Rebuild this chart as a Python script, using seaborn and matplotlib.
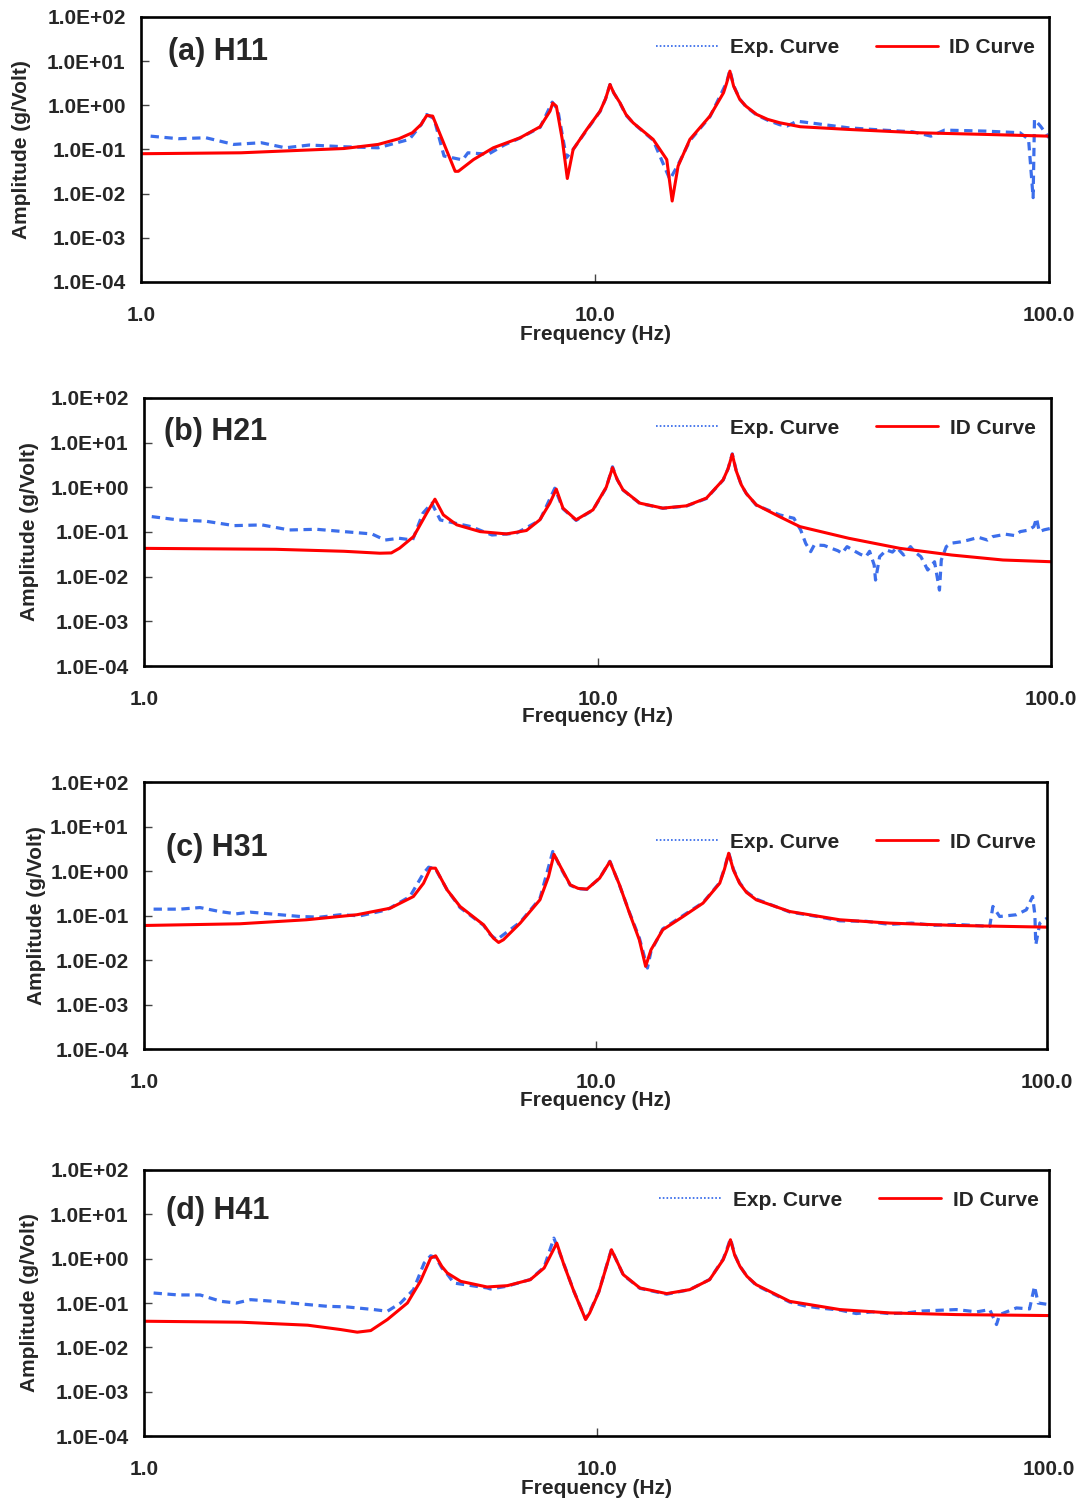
import matplotlib
matplotlib.use("Agg")
import matplotlib.pyplot as plt
import seaborn as sns
from matplotlib.lines import Line2D
from matplotlib.ticker import FixedLocator, FuncFormatter, NullLocator

# Estilo general
sns.set_style("white")
plt.rcParams['font.family'] = ['Liberation Sans', 'DejaVu Sans']
plt.rcParams['font.weight'] = 'bold'
plt.rcParams['lines.scale_dashes'] = False

AZUL = '#3C6EEB'
ROJO = '#FF0000'

# ---- Datos (frecuencia en Hz, amplitud en g/Volt) ----
# (a) H11
frec_h11_id = [1.00, 1.66, 2.80, 3.33, 3.70, 3.96, 4.14, 4.26, 4.39, 4.92,
               5.00, 5.40, 5.97, 6.84, 7.57, 7.96, 8.07, 8.22, 8.47, 8.69,
               8.95, 9.59, 10.26, 10.55, 10.79, 11.0, 11.35, 11.7, 12.13, 13.43,
               14.39, 14.79, 15.24, 16.18, 17.91, 19.19, 19.5, 19.82, 20.2, 20.84,
               21.5, 22.70, 24.0, 25.53, 28.31, 36.14, 51.17, 72.44, 100.0]
amp_h11_id = [0.080, 0.084, 0.105, 0.130, 0.175, 0.239, 0.368, 0.589, 0.569, 0.032,
              0.032, 0.059, 0.109, 0.184, 0.327, 0.736, 1.12, 0.955, 0.169, 0.022,
              0.100, 0.284, 0.736, 1.4, 2.96, 1.9, 1.14, 0.62, 0.402, 0.169,
              0.059, 0.0068, 0.042, 0.169, 0.569, 1.92, 3.2, 5.93, 2.7, 1.36,
              0.955, 0.621, 0.48, 0.402, 0.327, 0.284, 0.239, 0.219, 0.200]
frec_h11_exp = [1.05, 1.21, 1.39, 1.60, 1.84, 2.08, 2.35, 2.80, 3.33, 3.90,
                4.14, 4.26, 4.42, 4.65, 5.11, 5.25, 5.82, 6.31, 6.84, 7.57,
                8.05, 8.28, 8.65, 8.95, 9.59, 10.26, 10.55, 10.79, 11.0, 11.35,
                11.7, 12.13, 13.43, 14.62, 15.24, 16.18, 17.91, 19.5, 19.82, 20.2,
                20.84, 21.5, 22.70, 24.0, 25.53, 26.49, 27.86, 30.41, 36.14, 43.05,
                50.1, 54.95, 58.88, 72.44, 86.30, 90.16, 92.26, 92.90, 95.72, 100.0]
amp_h11_exp = [0.200, 0.175, 0.184, 0.130, 0.142, 0.109, 0.126, 0.115, 0.109, 0.169,
               0.363, 0.619, 0.50, 0.071, 0.058, 0.084, 0.078, 0.126, 0.182, 0.316,
               1.18, 0.794, 0.065, 0.100, 0.275, 0.724, 1.4, 2.95, 1.9, 1.12,
               0.6, 0.398, 0.162, 0.021, 0.045, 0.158, 0.550, 3.3, 6.24, 2.8,
               1.38, 0.93, 0.603, 0.46, 0.363, 0.339, 0.436, 0.389, 0.309, 0.274,
               0.251, 0.200, 0.274, 0.260, 0.239, 0.169, 0.0081, 0.479, 0.339, 0.184]

# (b) H21
frec_h21_id = [1.00, 1.95, 2.76, 3.31, 3.51, 3.66, 3.93, 4.20, 4.38, 4.57,
               4.89, 5.51, 6.30, 6.97, 7.46, 7.85, 8.11, 8.39, 8.97, 9.77,
               10.45, 10.79, 11.05, 11.38, 12.39, 13.93, 15.70, 17.38, 18.92, 19.4,
               19.82, 20.2, 20.75, 21.3, 22.39, 25.18, 27.93, 35.81, 46.45, 60.39,
               78.34, 100.0]
amp_h21_id = [0.043, 0.041, 0.037, 0.0335, 0.034, 0.0434, 0.0789, 0.264, 0.543, 0.242,
              0.145, 0.102, 0.0906, 0.108, 0.187, 0.443, 0.912, 0.342, 0.187, 0.313,
              1.00, 2.75, 1.5, 0.879, 0.443, 0.342, 0.385, 0.573, 1.47, 2.6,
              5.50, 2.4, 1.14, 0.72, 0.406, 0.221, 0.132, 0.0723, 0.043, 0.0305,
              0.0236, 0.0216]
frec_h21_exp = [1.04, 1.19, 1.37, 1.58, 1.82, 2.09, 2.40, 2.76, 3.18, 3.40,
                3.65, 3.91, 4.12, 4.31, 4.50, 5.26, 5.85, 6.61, 7.46, 8.05,
                8.39, 8.97, 9.77, 10.45, 10.79, 11.05, 11.38, 12.39, 13.93, 15.70,
                17.38, 18.92, 19.4, 19.82, 20.2, 20.75, 21.3, 22.39, 25.23, 27.10,
                28.05, 28.77, 29.51, 30.06, 31.6, 32.81, 33.9, 34.59, 35.5, 37.07,
                38.0, 39.08, 39.8, 40.74, 41.02, 41.88, 43.35, 44.7, 45.7, 47.32,
                48.98, 50.1, 51.64, 53.46, 55.34, 56.75, 57.28, 58.75, 60.3, 63.1,
                65.77, 69.2, 72.4, 74.30, 79.4, 83.2, 85.51, 89.1, 91.62, 92.90,
                94.19, 96.6, 100.0]
amp_h21_exp = [0.221, 0.186, 0.174, 0.139, 0.144, 0.111, 0.115, 0.102, 0.0904, 0.066,
               0.0724, 0.066, 0.263, 0.441, 0.186, 0.132, 0.0857, 0.0933, 0.182, 0.955,
               0.331, 0.182, 0.309, 0.98, 2.88, 1.5, 0.871, 0.437, 0.339, 0.380,
               0.562, 1.45, 2.6, 5.62, 2.5, 1.12, 0.72, 0.398, 0.241, 0.203,
               0.111, 0.0557, 0.0363, 0.0513, 0.050, 0.043, 0.038, 0.0333, 0.047, 0.0363,
               0.0316, 0.028, 0.037, 0.0182, 0.0084, 0.028, 0.0395, 0.0355, 0.0447, 0.0305,
               0.047, 0.0355, 0.028, 0.0141, 0.0216, 0.005, 0.0236, 0.047, 0.0562, 0.060,
               0.066, 0.0759, 0.066, 0.0787, 0.0891, 0.0832, 0.102, 0.110, 0.132, 0.203,
               0.102, 0.112, 0.121]

# (c) H31
frec_h31_id = [1.00, 1.63, 2.29, 2.96, 3.51, 3.95, 4.16, 4.31, 4.42, 4.69,
               5.01, 5.65, 5.94, 6.10, 6.25, 6.81, 7.53, 7.87, 8.09, 8.36,
               8.79, 9.15, 9.57, 10.21, 10.76, 11.30, 11.89, 12.50, 12.91, 13.27,
               14.09, 15.63, 17.30, 18.84, 19.3, 19.72, 20.2, 20.84, 21.6, 22.70,
               26.92, 34.75, 44.77, 62.95, 100.0]
amp_h31_id = [0.0597, 0.0652, 0.0802, 0.104, 0.146, 0.267, 0.532, 1.16, 1.16, 0.378,
              0.160, 0.0618, 0.031, 0.0248, 0.0285, 0.0675, 0.225, 0.752, 2.38, 1.26,
              0.489, 0.407, 0.391, 0.690, 1.63, 0.489, 0.113, 0.0285, 0.0072, 0.017,
              0.0478, 0.095, 0.190, 0.532, 1.1, 2.51, 1.05, 0.532, 0.33, 0.225,
              0.123, 0.0802, 0.0675, 0.0597, 0.0548]
frec_h31_exp = [1.05, 1.20, 1.33, 1.47, 1.60, 1.72, 1.94, 2.22, 2.45, 2.72,
                3.01, 3.45, 3.88, 4.16, 4.27, 4.42, 4.69, 5.01, 5.65, 5.85,
                6.04, 6.25, 6.81, 7.53, 8.04, 8.36, 8.79, 9.15, 9.57, 10.21,
                10.76, 11.30, 11.89, 12.50, 13.03, 13.27, 14.09, 15.63, 17.30, 18.84,
                19.3, 19.72, 20.2, 20.84, 21.6, 22.70, 26.92, 30.9, 34.75, 39.8,
                44.77, 50.1, 56.2, 62.95, 70.8, 74.64, 75.86, 78.52, 85.51, 89.95,
                92.90, 93.97, 94.41, 96.38, 100.0]
amp_h31_exp = [0.139, 0.139, 0.151, 0.123, 0.109, 0.119, 0.107, 0.095, 0.0918, 0.104,
               0.0984, 0.134, 0.267, 0.891, 1.22, 1.12, 0.380, 0.151, 0.0603, 0.0369,
               0.0285, 0.0369, 0.0708, 0.240, 2.74, 1.20, 0.479, 0.40, 0.389, 0.692,
               1.66, 0.479, 0.117, 0.0316, 0.0066, 0.0158, 0.0501, 0.100, 0.195, 0.550,
               1.15, 2.57, 1.1, 0.550, 0.34, 0.234, 0.120, 0.0955, 0.0759, 0.0741,
               0.0631, 0.0676, 0.0603, 0.0631, 0.0589, 0.0568, 0.160, 0.095, 0.104, 0.134,
               0.267, 0.104, 0.022, 0.0675, 0.0873]

# (d) H41
frec_h41_id = [1.00, 1.64, 2.30, 2.72, 2.96, 3.17, 3.45, 3.82, 4.08, 4.30,
               4.41, 4.55, 4.68, 5.01, 5.73, 6.35, 7.14, 7.66, 8.17, 8.47,
               8.91, 9.46, 9.66, 10.12, 10.79, 11.46, 12.47, 14.29, 16.07, 17.78,
               19.05, 19.4, 19.77, 20.2, 20.75, 21.5, 22.54, 26.73, 34.51, 44.46,
               62.37, 100.0]
amp_h41_id = [0.0388, 0.0369, 0.0316, 0.0252, 0.022, 0.0239, 0.0424, 0.100, 0.308, 1.03,
              1.16, 0.67, 0.474, 0.308, 0.230, 0.246, 0.336, 0.615, 2.24, 0.731,
              0.184, 0.0424, 0.0598, 0.178, 1.59, 0.436, 0.218, 0.163, 0.200, 0.336,
              0.946, 1.5, 2.67, 1.2, 0.670, 0.40, 0.259, 0.109, 0.0711, 0.0598,
              0.0548, 0.0521]
frec_h41_exp = [1.05, 1.19, 1.33, 1.48, 1.60, 1.72, 1.94, 2.22, 2.54, 2.81,
                3.22, 3.45, 3.69, 3.94, 4.16, 4.30, 4.42, 4.55, 4.68, 4.84,
                5.73, 5.83, 6.35, 7.14, 7.66, 8.05, 8.47, 8.91, 9.46, 9.66,
                10.12, 10.79, 11.46, 12.47, 14.29, 16.07, 17.78, 19.05, 19.4, 19.77,
                20.2, 20.75, 21.5, 22.54, 26.73, 29.11, 31.6, 34.51, 37.50, 40.7,
                44.46, 48.42, 52.5, 62.37, 69.2, 73.96, 76.56, 77.80, 84.72, 90.57,
                92.90, 94.62, 100.0]
amp_h41_exp = [0.168, 0.152, 0.152, 0.109, 0.100, 0.119, 0.109, 0.0953, 0.0843, 0.0815,
               0.0711, 0.0652, 0.100, 0.200, 0.796, 1.16, 1.05, 0.62, 0.447, 0.282,
               0.219, 0.207, 0.240, 0.339, 0.646, 2.90, 0.759, 0.186, 0.0437, 0.0631,
               0.182, 1.62, 0.427, 0.214, 0.158, 0.200, 0.339, 0.977, 1.6, 2.82,
               1.25, 0.676, 0.40, 0.251, 0.105, 0.0845, 0.0759, 0.0692, 0.0578, 0.0631,
               0.0575, 0.0598, 0.066, 0.0711, 0.0631, 0.0711, 0.0327, 0.0548, 0.0774, 0.0736,
               0.238, 0.100, 0.092]

ticks_x = [1, 10, 100]
ticks_y = [1e-4, 1e-3, 1e-2, 1e-1, 1e0, 1e1, 1e2]


def dibujar_panel(ax, f_exp, a_exp, f_id, a_id, titulo, pos_titulo, pos_leyenda, x_ylabel, y_xlabel):
    ax.set_xscale('log')
    ax.set_yscale('log')
    sns.lineplot(x=f_exp, y=a_exp, ax=ax, color=AZUL, linewidth=2.3,
                 linestyle=(0, (6, 4)), sort=False, estimator=None)
    sns.lineplot(x=f_id, y=a_id, ax=ax, color=ROJO, linewidth=2.2,
                 sort=False, estimator=None)
    ax.set_xlim(1, 100)
    ax.set_ylim(1e-4, 1e2)

    ax.xaxis.set_major_locator(FixedLocator(ticks_x))
    ax.xaxis.set_minor_locator(NullLocator())
    ax.xaxis.set_major_formatter(FuncFormatter(lambda v, p: f"{v:.1f}"))
    ax.yaxis.set_major_locator(FixedLocator(ticks_y))
    ax.yaxis.set_minor_locator(NullLocator())
    ax.yaxis.set_major_formatter(FuncFormatter(lambda v, p: f"{v:.1E}"))
    ax.tick_params(axis='both', direction='in', length=6, width=1, color='#444444',
                   labelsize=15, left=True, bottom=True)
    ax.tick_params(axis='x', pad=17)
    ax.tick_params(axis='y', pad=11)
    for s in ax.spines.values():
        s.set_color('black')
        s.set_linewidth(1.9)

    ax.set_xlabel('Frequency (Hz)', fontsize=15, fontweight='bold')
    ax.xaxis.set_label_coords(0.5, y_xlabel)
    ax.set_ylabel('Amplitude (g/Volt)', fontsize=15, fontweight='bold')
    ax.yaxis.set_label_coords(x_ylabel, 0.5)

    ax.text(pos_titulo[0], pos_titulo[1], titulo, transform=ax.transAxes,
            fontsize=22, fontweight='bold', ha='left', va='center')

    manejadores = [Line2D([], [], color=AZUL, linewidth=1.3, linestyle=(0, (1.2, 1.5))),
                   Line2D([], [], color=ROJO, linewidth=2.0)]
    ax.legend(manejadores, ['Exp. Curve', 'ID Curve'], ncol=2, frameon=False,
              loc='center left', bbox_to_anchor=pos_leyenda, handlelength=3.0,
              handletextpad=0.55, columnspacing=1.75, borderpad=0, borderaxespad=0,
              prop={'size': 15, 'weight': 'bold'})


fig = plt.figure(figsize=(10.78, 14.99), dpi=100)
ax_a = fig.add_axes([0.1308, 0.8119, 0.8423, 0.1768])
ax_b = fig.add_axes([0.1336, 0.5557, 0.8414, 0.1788])
ax_c = fig.add_axes([0.1336, 0.3002, 0.8377, 0.1781])
ax_d = fig.add_axes([0.1336, 0.0420, 0.8395, 0.1775])

dibujar_panel(ax_a, frec_h11_exp, amp_h11_exp, frec_h11_id, amp_h11_id, '(a) H11',
              (0.030, 0.868), (0.567, 0.883), -0.121, -0.162)
dibujar_panel(ax_b, frec_h21_exp, amp_h21_exp, frec_h21_id, amp_h21_id, '(b) H21',
              (0.022, 0.873), (0.5645, 0.888), -0.116, -0.152)
dibujar_panel(ax_c, frec_h31_exp, amp_h31_exp, frec_h31_id, amp_h31_id, '(c) H31',
              (0.024, 0.753), (0.567, 0.775), -0.1085, -0.156)
dibujar_panel(ax_d, frec_h41_exp, amp_h41_exp, frec_h41_id, amp_h41_id, '(d) H41',
              (0.024, 0.846), (0.569, 0.887), -0.116, -0.161)

fig.savefig('out.png', dpi=100)
